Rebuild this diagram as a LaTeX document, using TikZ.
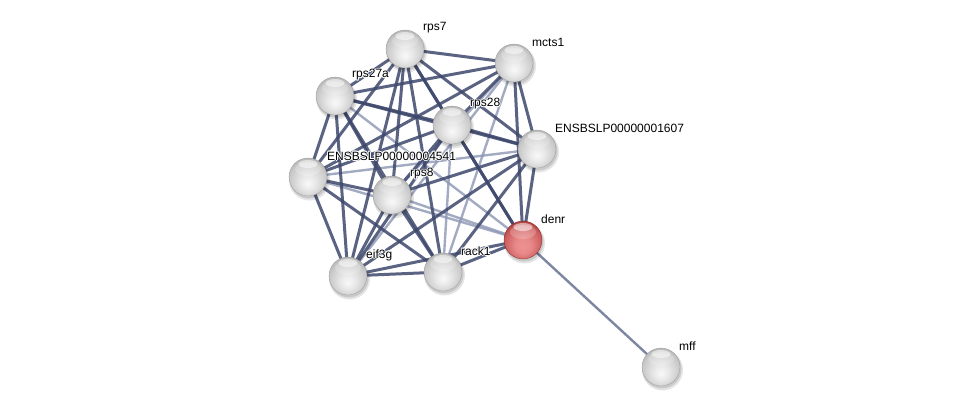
\documentclass[tikz,border=0pt]{standalone}
\usepackage{fontspec}
\setmainfont{Liberation Sans}
\usetikzlibrary{calc}
\pgfdeclareradialshading{gball}{\pgfpoint{0bp}{-9bp}}{color(0bp)=(gray!5); color(10bp)=(gray!18); color(24bp)=(gray!42); color(31bp)=(gray!62); color(34bp)=(gray!78); color(50bp)=(gray!78)}
\definecolor{rmid}{RGB}{205,95,95}
\definecolor{rlight}{RGB}{238,145,145}
\definecolor{rdark}{RGB}{160,50,50}
\pgfdeclareradialshading{rball}{\pgfpoint{0bp}{-9bp}}{color(0bp)=(rlight); color(10bp)=(rlight!85!rmid); color(24bp)=(rmid); color(31bp)=(rdark); color(34bp)=(rdark!80!black); color(50bp)=(rdark!80!black)}
\definecolor{edark}{RGB}{62,72,108}
\definecolor{elight}{RGB}{140,150,180}
\tikzset{
  ball/.style={circle, minimum size=38pt, inner sep=0pt, shading=gball, draw=gray!80, line width=0.3pt},
  redball/.style={ball, shading=rball, draw=rdark!80!black},
  lbl/.style={anchor=west, font=\fontsize{12}{12}\selectfont, inner sep=1pt},
  halo/.style={lbl, text=white},
  ed/.style={draw=edark, line width=3pt, opacity=0.85},
  el/.style={draw=elight, line width=2.4pt, opacity=0.8},
  emff/.style={draw=elight!90!black, line width=2.4pt},
}
\begin{document}
\begin{tikzpicture}[x=1pt,y=-1pt]
\useasboundingbox[fill=white] (0,0) rectangle (975,413);
\coordinate (A) at (405,49);
\coordinate (B) at (514,63);
\coordinate (C) at (335,96);
\coordinate (D) at (452,125);
\coordinate (E) at (537,149);
\coordinate (F) at (308,177);
\coordinate (G) at (392,195);
\coordinate (H) at (523,240);
\coordinate (I) at (348,276);
\coordinate (J) at (443,272);
\coordinate (K) at (661,367);
% light edges
\foreach \p/\q in {B/G, B/J, E/F, G/H, F/H, B/I, D/J, C/H}
  \path[el] (\p) -- (\q);
\path[emff] (H) -- (K);
% dark edges
\foreach \p/\q in {A/B, A/C, A/D, A/E, A/F, A/G, A/I, A/J, A/H,
  B/C, B/D, B/E, B/F, B/H,
  C/D, C/E, C/F, C/G, C/I, C/J,
  D/E, D/F, D/G, D/H, D/I,
  E/G, E/H, E/I, E/J,
  F/G, F/I, F/J,
  G/I, G/J,
  H/J, H/I, I/J}
  \path[ed] (\p) -- (\q);
% shadows
\foreach \c in {A,B,C,D,E,F,G,H,I,J,K}{
  \fill[black,opacity=0.10] ($(\c)+(1.5,3)$) circle (20.5pt);
  \fill[black,opacity=0.12] ($(\c)+(1,2)$) circle (19.5pt);
}
\node[ball] (rps7) at (A) {};
\node[ball] (mcts1) at (B) {};
\node[ball] (rps27a) at (C) {};
\node[ball] (rps28) at (D) {};
\node[ball] (e1607) at (E) {};
\node[ball] (e4541) at (F) {};
\node[ball] (rps8) at (G) {};
\node[redball] (denr) at (H) {};
\node[ball] (eif3g) at (I) {};
\node[ball] (rack1) at (J) {};
\node[ball] (mff) at (K) {};
\foreach \n in {rps7,mcts1,rps27a,rps28,e1607,e4541,rps8,denr,eif3g,rack1,mff}{
  \fill[white,opacity=0.5] ($(\n.center)+(0,-13)$) ellipse (9.5pt and 4pt);
  \fill[white,opacity=0.2] ($(\n.center)+(0,-8)$) ellipse (13pt and 7pt);
}
% labels with halo
\foreach \c/\o/\t in {A/1/rps7, B/1/mcts1, C/0/rps27a, D/1/rps28, E/1/ENSBSLP00000001607,
  F/2/ENSBSLP00000004541, G/1/rps8, H/1/denr, I/1/eif3g, J/1/rack1, K/1/mff}{
  \foreach \dx/\dy in {-0.9/0,0.9/0,0/-0.9,0/0.9,-0.6/-0.6,0.6/0.6,-0.6/0.6,0.6/-0.6}
    \node[halo] at ($(\c)+(16+\o+\dx,-21+\dy)$) {\t};
}
\node[lbl] (l1) at ($(A)+(17,-21)$) {rps7};
\node[lbl] (l2) at ($(B)+(17,-21)$) {mcts1};
\node[lbl] (l3) at ($(C)+(16,-21)$) {rps27a};
\node[lbl] (l4) at ($(D)+(17,-21)$) {rps28};
\node[lbl] (l5) at ($(E)+(17,-21)$) {ENSBSLP00000001607};
\node[lbl] (l6) at ($(F)+(18,-21)$) {ENSBSLP00000004541};
\node[lbl] (l7) at ($(G)+(17,-21)$) {rps8};
\node[lbl] (l8) at ($(H)+(17,-21)$) {denr};
\node[lbl] (l9) at ($(I)+(17,-21)$) {eif3g};
\node[lbl] (l10) at ($(J)+(17,-21)$) {rack1};
\node[lbl] (l11) at ($(K)+(17,-21)$) {mff};
\end{tikzpicture}
\end{document}
